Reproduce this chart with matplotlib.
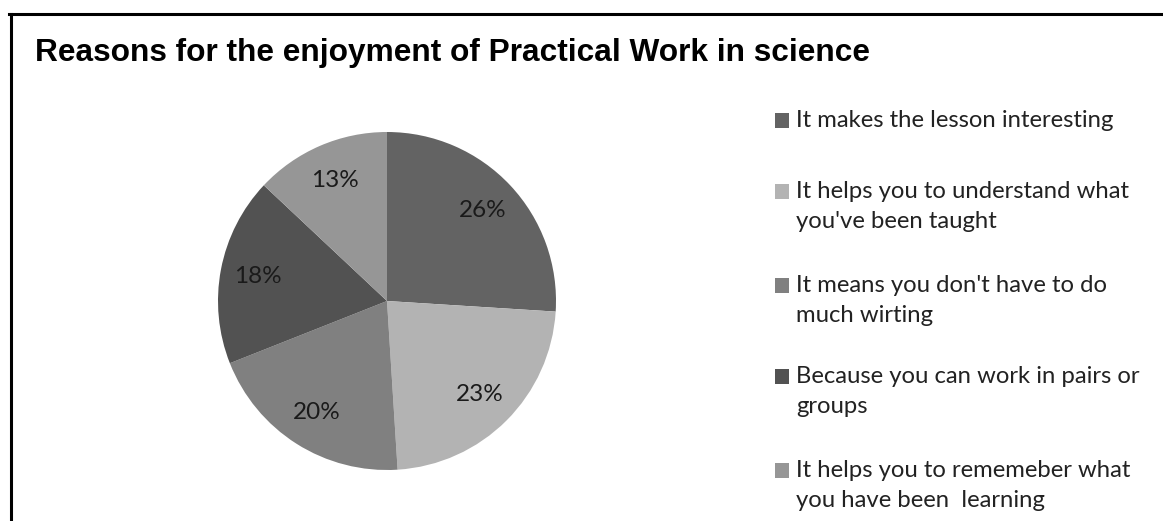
import matplotlib
matplotlib.use("Agg")
import matplotlib.pyplot as plt
from matplotlib.lines import Line2D
from matplotlib.patches import Rectangle

title = "Reasons for the enjoyment of Practical Work in science"
labels = [
    "It makes the lesson interesting",
    "It helps you to understand what\nyou've been taught",
    "It means you don't have to do\nmuch wirting",
    "Because you can work in pairs or\ngroups",
    "It helps you to rememeber what\nyou have been  learning",
]
shares = [26, 23, 20, 18, 13]
colors = ["#636363", "#b3b3b3", "#808080", "#525252", "#969696"]

W, H = 1163, 521
fig = plt.figure(figsize=(W / 100, H / 100), dpi=100)
fig.patch.set_facecolor("white")

# pie centre / radius in pixels
cx, cy, r = 387, 301, 169
pad = 1.03
ax = fig.add_axes([(cx - r * pad) / W, (H - cy - r * pad) / H,
                   2 * r * pad / W, 2 * r * pad / H])
ax.pie(shares, colors=colors, startangle=90, counterclock=False,
       autopct="%1.0f%%", pctdistance=0.78,
       wedgeprops=dict(linewidth=0),
       textprops=dict(family="Lato", fontsize=17.5, color="#1a1a1a"))
ax.set_xlim(-pad, pad)
ax.set_ylim(-pad, pad)
ax.set_aspect("equal")
ax.axis("off")

fig.text(35 / W, 1 - 61 / H, title, family="Liberation Sans",
         fontweight="bold", fontsize=22.8, va="baseline", ha="left")

# legend drawn by hand so the square sits on the first line
legend_base = [127, 198, 292, 383, 477]
line_px = 30
for lab, col, yb in zip(labels, colors, legend_base):
    fig.patches.append(Rectangle((775 / W, 1 - (yb + 1) / H), 14 / W, 15 / H,
                                 transform=fig.transFigure, facecolor=col,
                                 edgecolor="none"))
    for k, line in enumerate(lab.split("\n")):
        fig.text(796 / W, 1 - (yb + k * line_px) / H, line, family="Lato",
                 fontsize=17.2, color="#222222", va="baseline", ha="left")

# chart border (top and left only visible)
fig.add_artist(Line2D([9 / W, 1], [1 - 13.5 / H, 1 - 13.5 / H],
                      transform=fig.transFigure, color="black", lw=2.2))
fig.add_artist(Line2D([10.5 / W, 10.5 / W], [0, 1 - 13.5 / H],
                      transform=fig.transFigure, color="black", lw=2.2))

fig.savefig("out.png", dpi=100)
